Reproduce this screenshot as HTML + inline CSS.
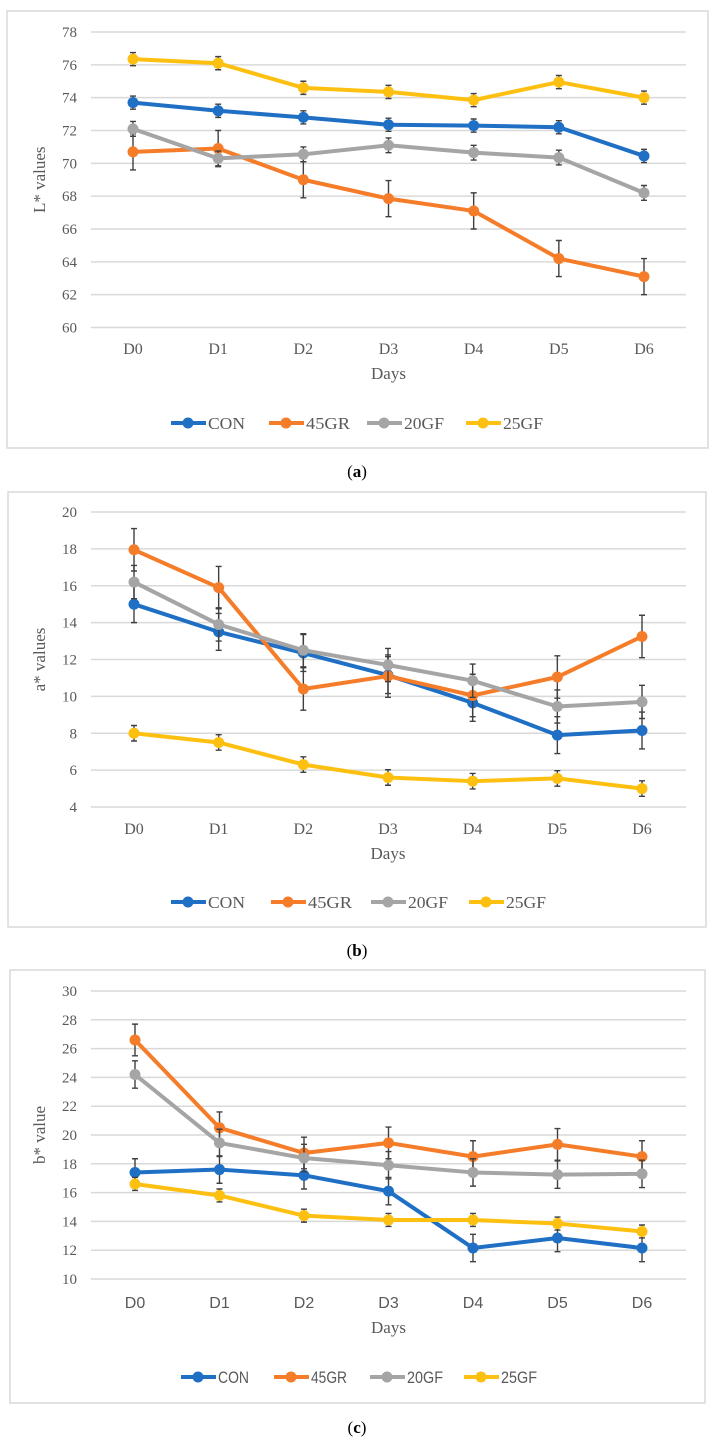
<!DOCTYPE html>
<html><head><meta charset="utf-8"><style>
body{margin:0;background:#fff;width:714px;height:1447px;overflow:hidden;font-family:"Liberation Serif",serif}
svg{position:absolute;left:0;top:0}
</style></head><body>
<svg id="s" width="714" height="1447" xmlns="http://www.w3.org/2000/svg"></svg>
<script>
const categories=["D0","D1","D2","D3","D4","D5","D6"];
const seriesNames=["CON","45GR","20GF","25GF"];
const colors=["#1f6fc5","#f57c28","#a5a5a5","#fdc010"];
// chart a: L*
const aCON=[73.7,73.2,72.8,72.35,72.3,72.2,70.45];
const a45GR=[70.7,70.9,69.0,67.85,67.1,64.2,63.1];
const a20GF=[72.1,70.3,70.55,71.1,70.65,70.35,68.2];
const a25GF=[76.35,76.1,74.6,74.35,73.85,74.95,74.0];
const aErr=[0.4,1.1,0.45,0.4];
const aTicks=[60,62,64,66,68,70,72,74,76,78];
// chart b: a*
const bCON=[15.0,13.5,12.35,11.15,9.65,7.9,8.15];
const b45GR=[17.95,15.9,10.4,11.1,10.05,11.05,13.25];
const b20GF=[16.2,13.9,12.5,11.7,10.85,9.45,9.7];
const b25GF=[8.0,7.5,6.3,5.6,5.4,5.55,5.0];
const bErr=[1.0,1.15,0.9,0.42];
const bTicks=[4,6,8,10,12,14,16,18,20];
// chart c: b*
const cCON=[17.4,17.6,17.2,16.1,12.15,12.85,12.15];
const c45GR=[26.6,20.5,18.75,19.45,18.5,19.35,18.5];
const c20GF=[24.2,19.45,18.4,17.9,17.4,17.25,17.3];
const c25GF=[16.6,15.8,14.4,14.1,14.1,13.85,13.3];
const cErr=[0.95,1.1,0.95,0.45];
const cTicks=[10,12,14,16,18,20,22,24,26,28,30];

const NS="http://www.w3.org/2000/svg";
const svg=document.getElementById('s');
function mk(tag,attrs,parent,text){const e=document.createElementNS(NS,tag);for(const k in attrs)e.setAttribute(k,attrs[k]);if(text!==undefined)e.textContent=text;(parent||svg).appendChild(e);return e;}

function chart(id,cfg,series,errs,ticks,ylabel,caption){
  const g=mk('g',{});
  
  
  const fr=mk('rect',{x:cfg.fx1,y:cfg.fy1,width:cfg.fx2-cfg.fx1,height:cfg.fy2-cfg.fy1,fill:'#fff',stroke:'#d9d9d9','stroke-width':1.5},g);
  
  
  const ymin=ticks[0],ymax=ticks[ticks.length-1];
  const Y=v=>cfg.yb+(v-ymin)/(ymax-ymin)*(cfg.yt-cfg.yb);
  const X=i=>cfg.x0+i*(cfg.x6-cfg.x0)/(categories.length-1);
  ticks.forEach(t=>{
    const l=mk('line',{x1:91,x2:686,y1:Y(t),y2:Y(t),stroke:'#d9d9d9','stroke-width':1.5},g);
    
    
    const tx=mk('text',{x:77,y:Y(t)+5,'text-anchor':'end','font-size':15,fill:'#595959'},g,String(t));
    
    
  });
  categories.forEach((c,i)=>{
    const tx=mk('text',{x:X(i),y:cfg.tickY,'text-anchor':'middle','font-size':16,fill:'#595959','font-family':cfg.catFont},g,c);
    
    
  });
  const xt=mk('text',{x:(cfg.x0+cfg.x6)/2,y:cfg.daysY,'text-anchor':'middle','font-size':17,fill:'#595959'},g,'Days');
  
  
  const yc=(cfg.yt+cfg.yb)/2;
  const yt=mk('text',{x:0,y:0,'text-anchor':'middle','font-size':17,fill:'#595959',transform:`translate(45,${yc}) rotate(-90)`},g,ylabel);
  
  
  series.forEach((vals,si)=>{
    const sg=mk('g',{},g);
    
    
    vals.forEach((v,i)=>{
      const e=errs[si];
      const eb=mk('path',{d:`M${X(i)} ${Y(v-e)}V${Y(v+e)}M${X(i)-3} ${Y(v-e)}h6M${X(i)-3} ${Y(v+e)}h6`,stroke:'#404040','stroke-width':1.4,fill:'none'},sg);
      
      
    });
    const pl=mk('polyline',{points:vals.map((v,i)=>X(i)+','+Y(v)).join(' '),fill:'none',stroke:colors[si],'stroke-width':4,'stroke-linejoin':'round'},sg);
    
    
    vals.forEach((v,i)=>{
      const c=mk('circle',{cx:X(i),cy:Y(v),r:5.5,fill:colors[si]},sg);
      
      
    });
  });
  seriesNames.forEach((n,si)=>{
    const lx=cfg.legX[si];
    const lg=mk('g',{},g);
    
    
    mk('line',{x1:lx,x2:lx+35,y1:cfg.legY,y2:cfg.legY,stroke:colors[si],'stroke-width':4},lg);
    mk('circle',{cx:lx+17,cy:cfg.legY,r:5.5,fill:colors[si]},lg);
    mk('text',{x:lx+37,y:cfg.legY+6,'font-size':17,fill:'#595959','font-family':cfg.legFont,'textLength':cfg.legW[si],'lengthAdjust':'spacingAndGlyphs'},lg,n);
  });
  const cap=mk('text',{x:357,y:cfg.capY,'text-anchor':'middle','font-size':17,fill:'#000'},svg);
  cap.innerHTML=`(<tspan font-weight="bold">${caption}</tspan>)`;
  
  
}
chart('chart-a',{fx1:7,fx2:708,fy1:11,fy2:448,yt:32,yb:327.5,x0:133,x6:644,tickY:354,daysY:379,legY:423,legX:[171,269,367,466],legW:[37,44,40,40],capY:477,catFont:'Liberation Serif',legFont:'Liberation Serif'},
  [aCON,a45GR,a20GF,a25GF],aErr,aTicks,'L* values','a');
chart('chart-b',{fx1:8,fx2:706,fy1:492,fy2:927,yt:512,yb:807,x0:134,x6:642,tickY:834,daysY:859,legY:902,legX:[171,271,371,469],legW:[37,44,40,40],capY:956,catFont:'Liberation Serif',legFont:'Liberation Serif'},
  [bCON,b45GR,b20GF,b25GF],bErr,bTicks,'a* values','b');
chart('chart-c',{fx1:10,fx2:705,fy1:970,fy2:1403,yt:991,yb:1279,x0:135,x6:642,tickY:1308,daysY:1333,legY:1377,legX:[181,274,370,464],legW:[31,36,36,36],capY:1433,catFont:'Liberation Sans',legFont:'Liberation Sans'},
  [cCON,c45GR,c20GF,c25GF],cErr,cTicks,'b* value','c');
</script>
</body></html>
